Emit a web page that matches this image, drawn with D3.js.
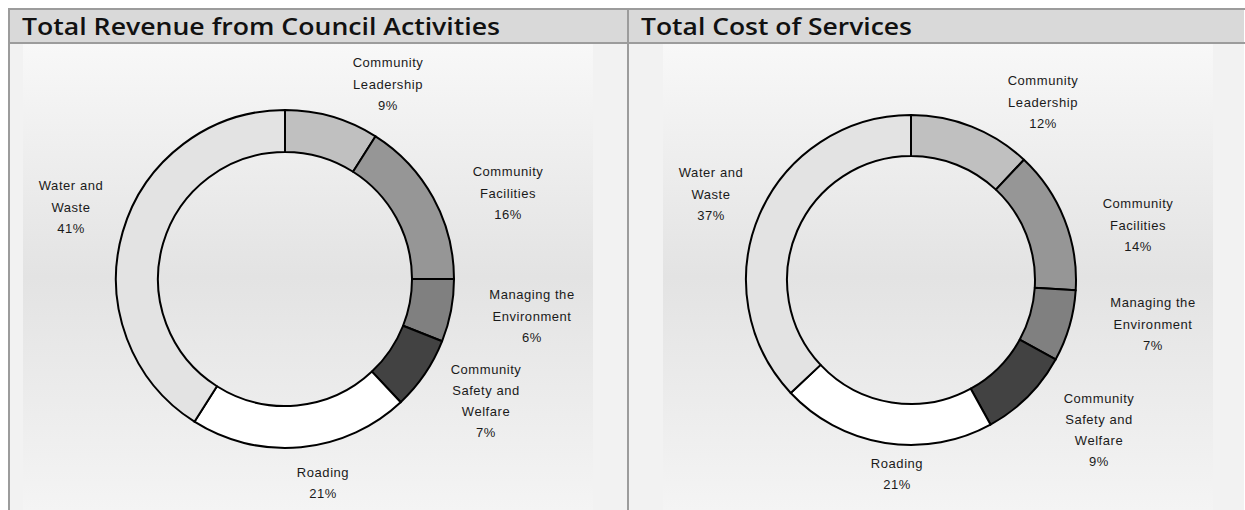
<!DOCTYPE html>
<html>
<head>
<meta charset="utf-8">
<script src="https://cdn.jsdelivr.net/npm/d3@7"></script>
<style>
  html, body { margin: 0; padding: 0; background: #ffffff; }
  svg { display: block; }
  .lbl { font-family: "Liberation Sans", Arial, sans-serif; font-size: 13px; fill: #1a1a1a; letter-spacing: 0.55px; }
  .ttl { font-family: "Open Sans", Lato, sans-serif; font-weight: 600; font-size: 23px; fill: #111; }
</style>
</head>
<body>
<svg id="chart" width="1245" height="510"></svg>
<script>
// Segment names, in drawing order (clockwise from 12 o'clock)
const categories = [
  "Community Leadership",
  "Community Facilities",
  "Managing the Environment",
  "Community Safety and Welfare",
  "Roading",
  "Water and Waste"
];
// Label text as wrapped in the chart
const labelLines = [
  ["Community", "Leadership"],
  ["Community", "Facilities"],
  ["Managing the", "Environment"],
  ["Community", "Safety and", "Welfare"],
  ["Roading"],
  ["Water and", "Waste"]
];
// Percentage shares
const revenueShare = [9, 16, 6, 7, 21, 41];
const costShare = [12, 14, 7, 9, 21, 37];
const panelTitles = ["Total Revenue from Council Activities", "Total Cost of Services"];

// Segment fills
const fills = ["#c0c0c0", "#969696", "#808080", "#424242", "#ffffff", "#e3e3e3"];

// Panel layout
const panels = [
  { x0: 8, x1: 627, plotX0: 23, plotX1: 593, cx: 285, cy: 279, R: 169, r: 127, titleW: 478,
    labelOffsets: [[103, -195], [223, -86], [247, 37], [201, 122], [38, 204], [-214, -72]],
    values: revenueShare, title: panelTitles[0] },
  { x0: 627, x1: 1244, plotX0: 663, plotX1: 1213, cx: 911, cy: 280, R: 165, r: 124, titleW: 271,
    labelOffsets: [[132, -178], [227, -55], [242, 44], [188, 150], [-14, 194], [-200, -86]],
    values: costShare, title: panelTitles[1] }
];

const svg = d3.select("#chart");
const defs = svg.append("defs");
const grad = defs.append("linearGradient").attr("id", "plotGrad")
  .attr("x1", 0).attr("y1", 0).attr("x2", 0).attr("y2", 1);
grad.append("stop").attr("offset", "0%").attr("stop-color", "#f8f8f8");
grad.append("stop").attr("offset", "50%").attr("stop-color", "#e3e3e3");
grad.append("stop").attr("offset", "100%").attr("stop-color", "#f4f4f4");

const bandTop = 8, bandBottom = 43, H = 510;
const borderCol = "#9c9c9c";

panels.forEach(p => {
  const g = svg.append("g");
  // chart area
  g.append("rect").attr("x", p.x0).attr("y", bandBottom).attr("width", p.x1 - p.x0).attr("height", H - bandBottom)
    .attr("fill", "#f2f2f2");
  // plot area with vertical gradient
  g.append("rect").attr("x", p.plotX0).attr("y", bandBottom + 1).attr("width", p.plotX1 - p.plotX0).attr("height", H - bandBottom - 1)
    .attr("fill", "url(#plotGrad)");
  // title band
  g.append("rect").attr("x", p.x0).attr("y", bandTop).attr("width", p.x1 - p.x0).attr("height", bandBottom - bandTop)
    .attr("fill", "#d9d9d9");
  g.append("text").attr("class", "ttl").attr("x", p.x0 + 14).attr("y", 35)
    .attr("textLength", p.titleW).attr("lengthAdjust", "spacingAndGlyphs")
    .text(p.title);

  // donut
  const pie = d3.pie().sort(null).value(d => d)
    .startAngle(0).endAngle(2 * Math.PI);
  const arcs = pie(p.values);
  const arc = d3.arc().innerRadius(p.r).outerRadius(p.R);
  const dg = g.append("g").attr("transform", `translate(${p.cx},${p.cy})`);
  dg.selectAll("path").data(arcs).join("path")
    .attr("d", arc)
    .attr("fill", (d, i) => fills[i])
    .attr("stroke", "#000")
    .attr("stroke-width", 2)
    .attr("stroke-linejoin", "round");

  // labels
  const lineH = 21.3;
  arcs.forEach((a, i) => {
    const lines = labelLines[i].concat([a.data + "%"]);
    const [ox, oy] = p.labelOffsets[i];
    const t = dg.append("text").attr("class", "lbl").attr("text-anchor", "middle");
    const y0 = oy - (lines.length - 1) * lineH / 2 + 4.5;
    lines.forEach((ln, k) => {
      t.append("tspan").attr("x", ox).attr("y", y0 + k * lineH).text(ln);
    });
  });
});

// frame lines
const frame = svg.append("g").attr("stroke", borderCol).attr("stroke-width", 2).attr("fill", "none");
frame.append("line").attr("x1", 8).attr("x2", 1245).attr("y1", bandTop + 1).attr("y2", bandTop + 1);
frame.append("line").attr("x1", 8).attr("x2", 1245).attr("y1", bandBottom).attr("y2", bandBottom);
frame.append("line").attr("x1", 9).attr("x2", 9).attr("y1", bandTop).attr("y2", H);
frame.append("line").attr("x1", 628).attr("x2", 628).attr("y1", bandTop).attr("y2", H);
</script>
</body>
</html>
